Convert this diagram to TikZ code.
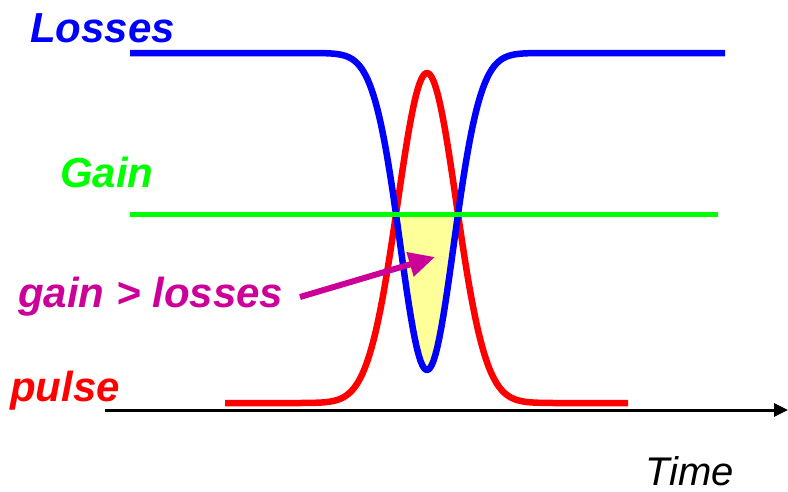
\documentclass[tikz,border=0pt]{standalone}
\usepackage{fontspec}
\setmainfont{Liberation Sans}
\usetikzlibrary{arrows.meta}
\definecolor{lossblue}{RGB}{0,0,255}
\definecolor{pulsered}{RGB}{255,0,0}
\definecolor{gaingreen}{RGB}{0,255,0}
\definecolor{magen}{RGB}{204,0,153}
\definecolor{fillyel}{RGB}{255,255,153}
\tikzset{
  lbl/.style={anchor=base west, inner sep=0pt, font=\fontsize{42}{48}\selectfont\bfseries\itshape},
  curve/.style={line width=6.5pt, line join=round},
}
\begin{document}
\begin{tikzpicture}[x=1pt,y=-1pt]
\useasboundingbox (0,0) rectangle (788,491);
% yellow region
\fill[fillyel] plot[domain=396:458,samples=60] (\x,{53+317*exp(-1*pow((\x-427)/37.7,2))}) -- cycle;
% pulse
\draw[curve,pulsered] (225,403) -- plot[domain=287:567,samples=160] (\x,{403-330*exp(-1*pow((\x-427)/41.5,2))}) -- (628,403);
% losses
\draw[curve,lossblue] (130,53) -- plot[domain=277:577,samples=160] (\x,{53+317*exp(-1*pow((\x-427)/37.7,2))}) -- (725,53);
% gain
\draw[line width=5pt,gaingreen] (130,214) -- (718,214);
% time axis
\coordinate (t0) at (105,410);
\coordinate (t1) at (788,410);
\draw[line width=3pt,-{Triangle[length=14pt,width=13pt]}] (t0) -- (t1);
% labels
\node[lbl,text=lossblue] (losses) at (30,42) {Losses};
\node[lbl,text=gaingreen] (gain) at (60,187) {Gain};
\node[lbl,text=pulsered] (pulse) at (10,401) {pulse};
\node[lbl,text=magen] (gl) at (18,307) {gain > losses};
\node[anchor=base west, inner sep=0pt, font=\fontsize{40}{46}\selectfont\itshape] (time) at (645,485) {Time};
% arrow
\coordinate (atail) at (300,297);
\coordinate (ahead) at (435,257);
\draw[line width=6pt,magen,-{Triangle[length=26pt,width=24pt]}] (atail) -- (ahead);
\end{tikzpicture}
\end{document}
